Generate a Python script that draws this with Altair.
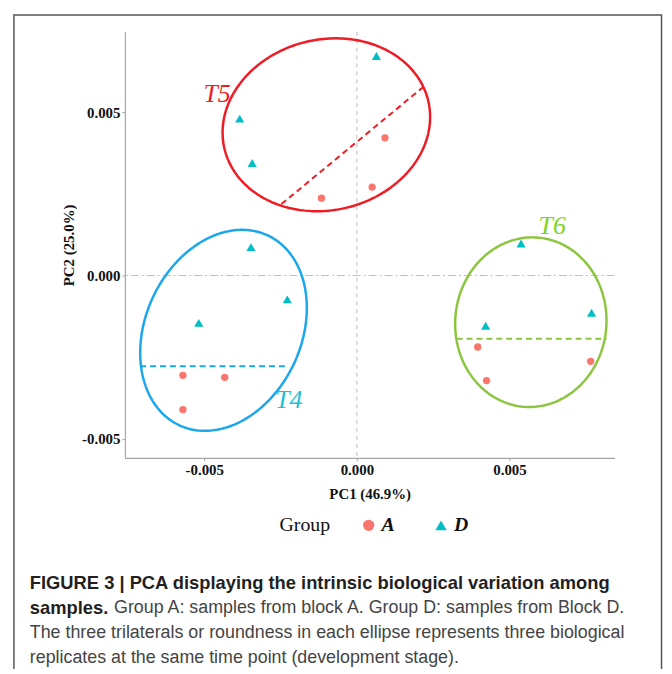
import numpy as np
import pandas as pd
import altair as alt

# ---- data ----
pc1_A = [0.00092, 0.00050, -0.00116, -0.00570, -0.00433, -0.00570, 0.00396, 0.00425, 0.00766]
pc2_A = [0.00422, 0.00271, 0.00237, -0.00306, -0.00312, -0.00411, -0.00219, -0.00322, -0.00263]
pc1_D = [0.00064, -0.00384, -0.00343, -0.00347, -0.00228, -0.00518, 0.00538, 0.00422, 0.00769]
pc2_D = [0.00673, 0.00481, 0.00345, 0.00087, -0.00073, -0.00145, 0.00098, -0.00154, -0.00114]

groups = ["A", "D"]
group_colors = ["#F8766D", "#00BFC4"]
group_shapes = ["circle", "triangle-up"]

ell_name = ["T5", "T4", "T6"]
ell_cx = [-0.00100, -0.00437, 0.00570]
ell_cy = [0.00462, -0.00168, -0.00143]
ell_ax = [0.00340, 0.00273, 0.00248]
ell_by = [0.00265, 0.00308, 0.00260]
ell_tilt = [0.09, 0.225, 0.02]
ell_color = ["#EE1C25", "#1AA7EC", "#8CC63F"]

div_x1 = [-0.00247, -0.00710, 0.00327]
div_y1 = [0.00219, -0.00278, -0.00194]
div_x2 = [0.00219, -0.00223, 0.00818]
div_y2 = [0.00579, -0.00278, -0.00194]

lab_x = [-0.00458, -0.00223, 0.00640]
lab_y = [0.00556, -0.00382, 0.00153]
lab_color = ["#EE1C25", "#1EC0D4", "#7DD321"]

x_ticks = [-0.005, 0.0, 0.005]
y_ticks = [-0.005, 0.0, 0.005]
x_title = "PC1 (46.9%)"
y_title = "PC2 (25.0%)"
legend_title = "Group"

cap1 = "FIGURE 3 | PCA displaying the intrinsic biological variation among"
cap2a = "samples."
cap2b = "Group A: samples from block A. Group D: samples from Block D."
cap3 = "The three trilaterals or roundness in each ellipse represents three biological"
cap4 = "replicates at the same time point (development stage)."

# ---- build tables ----
pts = pd.DataFrame({
    "PC1": pc1_A + pc1_D,
    "PC2": pc2_A + pc2_D,
    "Group": ["A"] * len(pc1_A) + ["D"] * len(pc1_D),
})

xs = alt.Scale(domain=[-0.0076, 0.00844], nice=False, zero=False)
ys = alt.Scale(domain=[-0.00559, 0.00747], nice=False, zero=False)

label_expr = "datum.value < 0 ? '-' + format(-datum.value, '.3f') : format(datum.value, '.3f')"
x_axis = alt.Axis(values=x_ticks, labelExpr=label_expr, title=x_title, titlePadding=9)
y_axis = alt.Axis(values=y_ticks, labelExpr=label_expr, title=y_title, titlePadding=5)

layers = []

# frame around the whole figure
layers.append(
    alt.Chart(pd.DataFrame({"k": [0]})).mark_rect(
        fillOpacity=0, stroke="#555555", strokeWidth=1.5
    ).encode(x=alt.value(-112), x2=alt.value(541.5), y=alt.value(-17), y2=alt.value(720))
)

# zero reference lines
layers.append(
    alt.Chart(pd.DataFrame({"v": [0.0]})).mark_rule(
        color="#BDBDBD", strokeWidth=1, strokeDash=[4, 4]
    ).encode(x=alt.X("v:Q", scale=xs, axis=x_axis))
)
layers.append(
    alt.Chart(pd.DataFrame({"v": [0.0]})).mark_rule(
        color="#BDBDBD", strokeWidth=1, strokeDash=[8, 3, 2, 3]
    ).encode(y=alt.Y("v:Q", scale=ys, axis=y_axis))
)

# ellipses
t = np.linspace(0, 2 * np.pi, 241)
for i, nm in enumerate(ell_name):
    edf = pd.DataFrame({
        "x": ell_cx[i] + ell_ax[i] * np.cos(t),
        "y": ell_cy[i] + ell_by[i] * np.sin(t + ell_tilt[i]),
        "o": np.arange(len(t)),
    })
    layers.append(
        alt.Chart(edf).mark_line(color=ell_color[i], strokeWidth=2.5).encode(
            x=alt.X("x:Q", scale=xs, axis=x_axis),
            y=alt.Y("y:Q", scale=ys, axis=y_axis),
            order="o:Q",
        )
    )
    ddf = pd.DataFrame({"x": [div_x1[i]], "y": [div_y1[i]], "x2": [div_x2[i]], "y2": [div_y2[i]]})
    layers.append(
        alt.Chart(ddf).mark_rule(color=ell_color[i], strokeWidth=2, strokeDash=[6, 4]).encode(
            x=alt.X("x:Q", scale=xs, axis=x_axis),
            y=alt.Y("y:Q", scale=ys, axis=y_axis),
            x2="x2:Q",
            y2="y2:Q",
        )
    )
    ldf = pd.DataFrame({"x": [lab_x[i]], "y": [lab_y[i]], "t": [nm]})
    layers.append(
        alt.Chart(ldf).mark_text(
            font="Liberation Serif", fontStyle="italic", fontSize=26,
            color=lab_color[i], align="center", baseline="middle"
        ).encode(
            x=alt.X("x:Q", scale=xs, axis=x_axis),
            y=alt.Y("y:Q", scale=ys, axis=y_axis),
            text="t:N",
        )
    )

# points (one layer per group so the triangles can be a little larger)
color_enc = alt.Color("Group:N", scale=alt.Scale(domain=groups, range=group_colors),
                      legend=alt.Legend(title=legend_title))
shape_enc = alt.Shape("Group:N", scale=alt.Scale(domain=groups, range=group_shapes),
                      legend=alt.Legend(title=legend_title))
for g, sz in zip(groups, [55, 85]):
    layers.append(
        alt.Chart(pts[pts["Group"] == g]).mark_point(filled=True, opacity=1, size=sz).encode(
            x=alt.X("PC1:Q", scale=xs, axis=x_axis),
            y=alt.Y("PC2:Q", scale=ys, axis=y_axis),
            color=color_enc,
            shape=shape_enc,
        )
    )

# caption
def cap(text, x, y, bold, size, color):
    return alt.Chart(pd.DataFrame({"t": [text]})).mark_text(
        font="Liberation Sans", fontSize=size, fontWeight="bold" if bold else "normal",
        color=color, align="left", baseline="middle"
    ).encode(x=alt.value(x), y=alt.value(y), text="t:N")

layers.append(cap(cap1, -96, 556, True, 18.5, "#231F20"))
layers.append(cap(cap2a, -96, 581.5, True, 18.5, "#231F20"))
layers.append(cap(cap2b, -11, 581.5, False, 18, "#444444"))
layers.append(cap(cap3, -96, 607, False, 18, "#444444"))
layers.append(cap(cap4, -96, 632, False, 18, "#444444"))

chart = alt.layer(*layers).properties(
    width=494, height=430,
    padding={"left": 118, "top": 21, "right": 50, "bottom": 210},
    autosize=alt.AutoSizeParams(type="none"),
    background="white",
).configure_view(strokeWidth=0).configure_axis(
    grid=False,
    domainColor="#A6A6A6", domainWidth=1.2,
    tickColor="#A6A6A6", tickSize=3, tickWidth=1,
    labelFont="Liberation Serif", labelFontWeight="bold", labelFontSize=15, labelColor="#111111",
    labelPadding=2,
    titleFont="Liberation Serif", titleFontWeight="bold", titleFontSize=15, titleColor="#111111",
).configure_legend(
    orient="none", legendX=156, legendY=488, direction="horizontal",
    titleOrient="left", titleFont="Liberation Serif", titleFontWeight="normal",
    titleFontSize=20, titleColor="#111111", titlePadding=28,
    labelFont="Liberation Serif", labelFontWeight="bold", labelFontStyle="italic",
    labelFontSize=20, labelColor="#111111", labelOffset=3,
    symbolSize=130, symbolStrokeWidth=0, columnPadding=36,
)

chart.save("out.html", embed_options={"renderer": "svg", "actions": False})
